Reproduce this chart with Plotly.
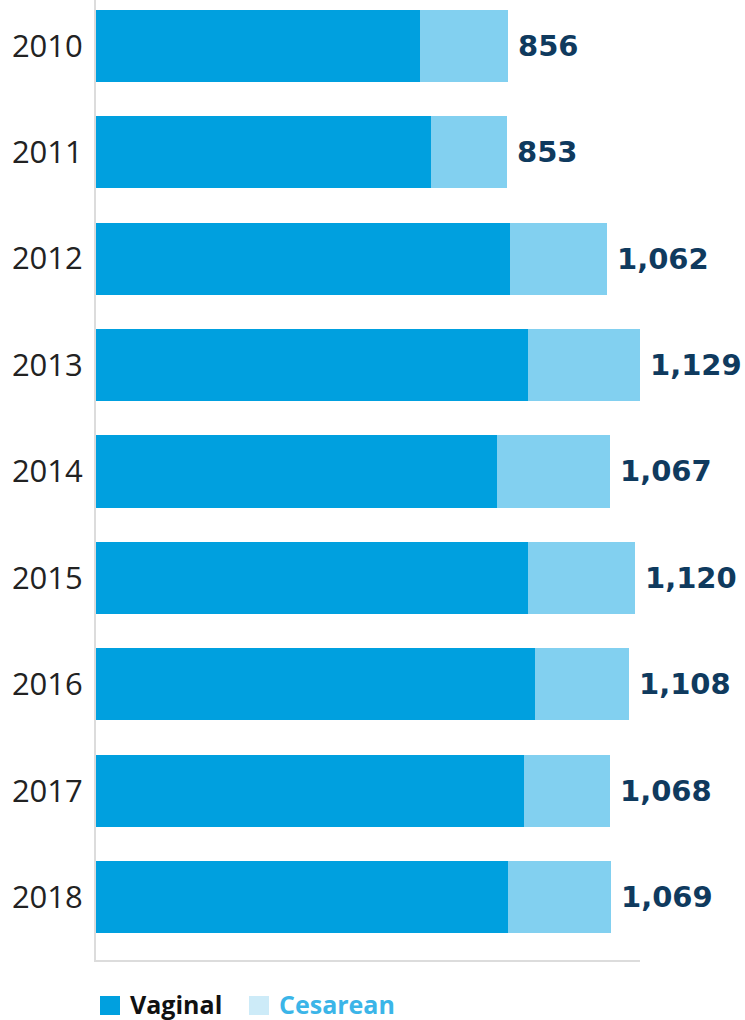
import plotly.graph_objects as go

years = ["2010", "2011", "2012", "2013", "2014", "2015", "2016", "2017", "2018"]
vaginal = [673, 696, 860, 897, 833, 897, 912, 889, 856]
totals = [856, 853, 1062, 1129, 1067, 1120, 1108, 1068, 1069]
cesarean = [t - v for t, v in zip(totals, vaginal)]

VAG_COLOR = "#00a0df"
CES_COLOR = "#82d0f0"
CES_SWATCH = "#cdebf8"
LABEL_COLOR = "#0f3a5e"

fig = go.Figure()
fig.add_trace(go.Bar(
    y=years, x=vaginal, orientation="h", name="Vaginal",
    marker=dict(color=VAG_COLOR, line=dict(width=0)),
    showlegend=False, hoverinfo="x+y",
))
fig.add_trace(go.Bar(
    y=years, x=cesarean, orientation="h", name="Cesarean",
    marker=dict(color=CES_COLOR, line=dict(width=0)),
    showlegend=False, hoverinfo="x+y",
))

annotations = []
# total labels at the end of each stacked bar (y given as category index)
for i, tot in enumerate(totals):
    annotations.append(dict(x=tot, y=i, xref="x", yref="y",
                            xanchor="left", yanchor="middle", xshift=8,
                            showarrow=False, text=f"<b>{tot:,}</b>",
                            font=dict(family="DejaVu Sans", size=29,
                                      color=LABEL_COLOR)))

# legend drawn as swatches + text below the plot
legend_items = [("Vaginal", VAG_COLOR, "#111111", 100),
                ("Cesarean", CES_SWATCH, "#3bb5e8", 249)]
shapes = []
for name, swatch, txt_color, x0 in legend_items:
    shapes.append(dict(type="rect", xref="paper", yref="paper",
                       x0=(x0 - 96) / 544, x1=(x0 + 20 - 96) / 544,
                       y0=-(1015 - 960) / 960, y1=-(996 - 960) / 960,
                       fillcolor=swatch, line=dict(width=0)))
    annotations.append(dict(xref="paper", yref="paper",
                            x=(x0 + 28 - 96) / 544, y=-(1004 - 960) / 960,
                            xanchor="left", yanchor="middle", showarrow=False,
                            text=f"<b>{name}</b>",
                            font=dict(family="Open Sans", size=25, color=txt_color)))

fig.update_layout(
    barmode="stack",
    bargap=0.323,
    width=745, height=1020,
    margin=dict(l=96, r=105, t=0, b=60),
    paper_bgcolor="white", plot_bgcolor="white",
    shapes=shapes, annotations=annotations,
    xaxis=dict(range=[0, 1130], showgrid=False, zeroline=False,
               showticklabels=False, showline=True, linecolor="#dcdcdc",
               linewidth=2),
    yaxis=dict(categoryorder="array", categoryarray=years,
               range=[8.59, -0.43], showgrid=False, zeroline=False,
               showline=True, linecolor="#dcdcdc", linewidth=2,
               ticks="", ticklabelstandoff=5,
               tickfont=dict(family="Open Sans", size=31, color="#222222")),
    font=dict(family="Open Sans"),
)

fig.write_html("out.html")
